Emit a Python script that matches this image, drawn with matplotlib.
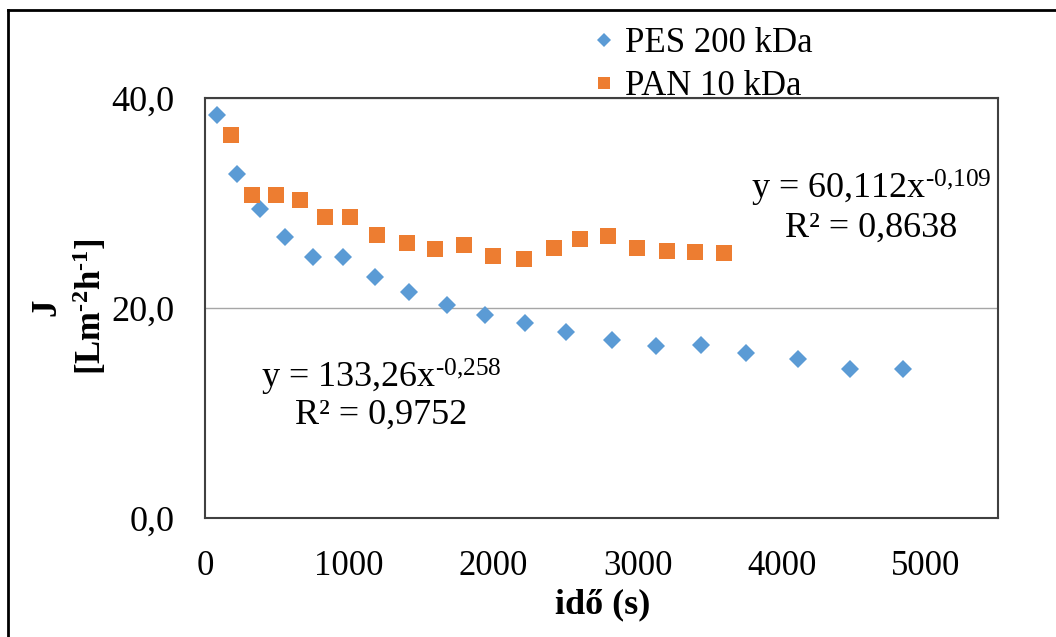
import matplotlib
matplotlib.use("Agg")
import matplotlib.pyplot as plt
from matplotlib.lines import Line2D

# data
pes_t = [84, 223, 384, 552, 747, 957, 1180, 1418, 1676, 1941, 2221, 2507,
         2821, 3128, 3443, 3750, 4113, 4476, 4839]
pes_j = [38.4, 32.8, 29.4, 26.8, 24.9, 24.9, 23.0, 21.5, 20.3, 19.3, 18.6,
         17.7, 17.0, 16.4, 16.5, 15.7, 15.1, 14.2, 14.2]
pan_t = [182, 328, 489, 656, 831, 1006, 1194, 1404, 1592, 1795, 1997, 2214,
         2423, 2598, 2793, 2996, 3205, 3401, 3603]
pan_j = [36.5, 30.8, 30.8, 30.3, 28.7, 28.7, 27.0, 26.2, 25.6, 26.0, 25.0,
         24.7, 25.7, 26.6, 26.9, 25.7, 25.4, 25.3, 25.2]
labels = ["PES 200 kDa", "PAN 10 kDa"]
xticks = [0, 1000, 2000, 3000, 4000, 5000]
yticks = [0, 20, 40]

blue = "#5B9BD5"
orange = "#ED7D31"
hy = "\u2010"  # short hyphen for the exponents

plt.rcParams['font.family'] = ['Liberation Serif', 'DejaVu Serif']
plt.rcParams['mathtext.default'] = 'regular'

fig = plt.figure(figsize=(10.56, 6.37), dpi=100)
W, H = 1056, 637
ax = fig.add_axes([205 / W, 1 - 518 / H, 793 / W, 420 / H])

ax.plot(pes_t, pes_j, linestyle='none', marker='D', markersize=9.5,
        color=blue, markeredgewidth=0, label=labels[0], clip_on=False)
ax.plot(pan_t, pan_j, linestyle='none', marker='s', markersize=11,
        color=orange, markeredgewidth=0, label=labels[1], clip_on=False)

ax.set_xlim(0, 5500)
ax.set_ylim(0, 40)
ax.set_xticks(xticks)
ax.set_yticks(yticks)
ax.set_xticklabels([str(v) for v in xticks], fontsize=25)
ax.set_yticklabels([("%.1f" % v).replace(".", ",") for v in yticks], fontsize=26)
ax.tick_params(axis='both', length=0)
ax.tick_params(axis='x', pad=23)
ax.tick_params(axis='y', pad=22)
ax.yaxis.grid(True, color='#A6A6A6', linewidth=1)
ax.set_axisbelow(True)
for s in ax.spines.values():
    s.set_color('#404040')
    s.set_linewidth(1.5)

# trendline equations
fig.text(871 / W, 1 - 188 / H, "y = 60,112x$^{" + hy + "0{,}109}$", fontsize=26,
         ha='center', va='center')
fig.text(871 / W, 1 - 228 / H, "R² = 0,8638", fontsize=26,
         ha='center', va='center')
fig.text(381 / W, 1 - 377 / H, "y = 133,26x$^{" + hy + "0{,}258}$", fontsize=26,
         ha='center', va='center')
fig.text(381 / W, 1 - 415 / H, "R² = 0,9752", fontsize=26,
         ha='center', va='center')

# axis titles
fig.text(603 / W, 1 - 605 / H, "idő (s)", fontsize=26, fontweight='bold',
         ha='center', va='center')
fig.text(47 / W, 1 - 307 / H, "J", fontsize=25, fontweight='bold',
         ha='center', va='center', rotation=90)
fig.text(90 / W, 1 - 307 / H, "[Lm$^{" + hy + "2}$h$^{" + hy + "1}$]", fontsize=25,
         fontweight='bold', ha='center', va='center', rotation=90)

# legend
handles = [Line2D([], [], linestyle='none', marker='D', markersize=7,
                  color=blue, markeredgewidth=0),
           Line2D([], [], linestyle='none', marker='s', markersize=9,
                  color=orange, markeredgewidth=0)]
fig.legend(handles, labels, loc='upper left', bbox_to_anchor=(576 / W, 1 - 10 / H),
           frameon=False, fontsize=25, handlelength=0.6, handletextpad=0.3,
           labelspacing=0.28, borderpad=0)

# outer chart frame
fig.add_artist(Line2D([8 / W, 1.0], [1 - 10 / H, 1 - 10 / H], color='black',
                      linewidth=2, transform=fig.transFigure))
fig.add_artist(Line2D([8 / W, 8 / W], [0, 1 - 10 / H], color='black',
                      linewidth=2, transform=fig.transFigure))

fig.savefig("out.png", dpi=100, facecolor='white')
